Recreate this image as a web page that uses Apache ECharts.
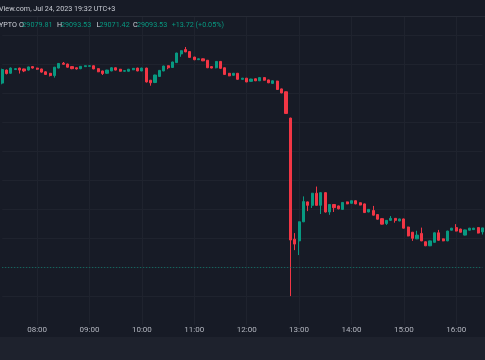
<!DOCTYPE html>
<html><head><meta charset="utf-8">
<script src="https://cdn.jsdelivr.net/npm/echarts/dist/echarts.min.js"></script>
<style>html,body{margin:0;padding:0;background:#171b26;overflow:hidden}#c{width:485px;height:360px}</style>
</head><body><div id="c"></div>
<script>
const categories = [
'07:20','07:25','07:30','07:35','07:40','07:45','07:50','07:55',
'08:00','08:05','08:10','08:15','08:20','08:25','08:30','08:35','08:40','08:45','08:50','08:55',
'09:00','09:05','09:10','09:15','09:20','09:25','09:30','09:35','09:40','09:45','09:50','09:55',
'10:00','10:05','10:10','10:15','10:20','10:25','10:30','10:35','10:40','10:45','10:50','10:55',
'11:00','11:05','11:10','11:15','11:20','11:25','11:30','11:35','11:40','11:45','11:50','11:55',
'12:00','12:05','12:10','12:15','12:20','12:25','12:30','12:35','12:40','12:45','12:50','12:55',
'13:00','13:05','13:10','13:15','13:20','13:25','13:30','13:35','13:40','13:45','13:50','13:55',
'14:00','14:05','14:10','14:15','14:20','14:25','14:30','14:35','14:40','14:45','14:50','14:55',
'15:00','15:05','15:10','15:15','15:20','15:25','15:30','15:35','15:40','15:45','15:50','15:55',
'16:00','16:05','16:10','16:15','16:20','16:25','16:30'];

const opens = [29536,29581,29570,29583,29588,29585,29581,29593,29588,29585,
29575,29570,29562,29588,29605,29602,29593,29589,29586,29593,
29594,29596,29586,29578,29570,29578,29589,29584,29577,29577,
29582,29588,29578,29588,29546,29538,29559,29578,29596,29590,
29607,29637,29652,29645,29626,29617,29620,29615,29593,29589,
29611,29589,29570,29563,29570,29549,29553,29542,29551,29544,
29555,29547,29535,29543,29516,29506,29415,28996,28990,29056,
29125,29113,29155,29113,29157,29090,29116,29111,29099,29125,
29120,29129,29122,29118,29090,29095,29081,29067,29050,29061,
29068,29059,29066,29038,29020,28997,29016,28987,28973,28985,
29018,28997,28990,29027,29036,29031,29010,29027,29029,29036,
29021];

const closes = [29583,29569,29588,29586,29581,29578,29592,29588,29584,29574,
29566,29562,29591,29604,29601,29591,29586,29585,29594,29596,
29596,29585,29575,29569,29581,29589,29581,29577,29579,29584,
29587,29578,29588,29540,29537,29564,29580,29595,29589,29609,
29640,29648,29644,29625,29617,29620,29613,29589,29588,29611,
29587,29566,29561,29570,29549,29553,29540,29550,29544,29555,
29546,29537,29544,29514,29502,29431,28993,28979,29056,29126,
29113,29155,29113,29157,29090,29116,29105,29101,29123,29118,
29129,29118,29114,29088,29099,29079,29065,29048,29061,29068,
29061,29066,29034,29007,28999,29010,28990,28973,28990,29018,
28992,28990,29024,29034,29024,29020,29028,29034,29034,29017,
29035];

const lows = [29532,29566,29568,29581,29569,29574,29579,29586,29582,29572,
29564,29559,29555,29587,29600,29590,29584,29583,29584,29592,
29593,29584,29574,29564,29568,29577,29580,29576,29576,29576,
29581,29577,29577,29538,29527,29536,29558,29577,29584,29589,
29606,29627,29643,29624,29615,29616,29612,29588,29587,29587,
29586,29565,29560,29561,29548,29548,29539,29541,29543,29543,
29545,29536,29534,29513,29501,29430,28799,28958,28941,29055,
29093,29104,29112,29083,29088,29080,29090,29099,29097,29117,
29119,29117,29113,29087,29089,29078,29064,29047,29045,29059,
29053,29058,29033,29006,28990,28996,28989,28972,28972,28984,
28991,28989,28989,29026,29023,29019,29009,29026,29028,29016,
29012];

const highs = [29586,29583,29590,29588,29589,29586,29593,29595,29589,29586,
29577,29571,29592,29605,29609,29603,29594,29590,29595,29597,
29598,29597,29587,29579,29582,29591,29590,29585,29580,29585,
29588,29589,29589,29589,29547,29565,29581,29596,29597,29610,
29641,29649,29661,29646,29627,29621,29621,29616,29594,29612,
29612,29590,29571,29571,29571,29554,29554,29551,29552,29556,
29556,29548,29545,29544,29517,29507,29416,29017,29057,29144,
29126,29156,29178,29158,29158,29117,29117,29112,29124,29126,
29130,29130,29123,29119,29100,29111,29082,29068,29062,29076,
29069,29067,29067,29039,29021,29025,29036,28988,28991,29019,
29028,28998,29025,29035,29048,29032,29029,29035,29035,29037,
29035];

const refLine = 28900;
const headerText = 'View.com, Jul 24, 2023 19:32 UTC+3';
const legendParts = [
  ['YPTO', -1, '#d1d4dc'],
  ['O', 19, '#d1d4dc'], ['29079.81', 22.3, '#089981'],
  ['H', 57, '#d1d4dc'], ['29093.53', 61, '#089981'],
  ['L', 96.5, '#d1d4dc'], ['29071.42', 99.5, '#089981'],
  ['C', 133, '#d1d4dc'], ['29093.53', 137, '#089981'],
  ['+13.72 (+0.05%)', 171.7, '#089981']
];

const UP = '#089981', DOWN = '#f23645', BG = '#171b26';
const data = opens.map((o, i) => [o, closes[i], lows[i], highs[i]]);
const isHour = (i, v) => v.slice(3) === '00';

const chart = echarts.init(document.getElementById('c'), null, {renderer: 'canvas'});
const graphics = [
  {type: 'rect', z: 100, shape: {x: 0, y: 0, width: 485, height: 16}, style: {fill: BG}},
  {type: 'rect', z: 100, shape: {x: 0, y: 16, width: 485, height: 1}, style: {fill: '#262a35'}},
  {type: 'rect', z: 100, shape: {x: 0, y: 337, width: 485, height: 23}, style: {fill: '#1e222d'}},
  {type: 'text', z: 101, x: -1, y: 9, style: {text: headerText, fill: '#c8cbd3', font: '7.2px Roboto', verticalAlign: 'middle'}}
];
legendParts.forEach(p => graphics.push({type: 'text', z: 101, x: p[1], y: 25.5,
  style: {text: p[0], fill: p[2], font: '7.2px Roboto', verticalAlign: 'middle'}}));

chart.setOption({
  backgroundColor: BG,
  animation: false,
  grid: {left: 2.18, right: 2.56, top: 6.8, bottom: 35.3, outerBoundsMode: 'none', containLabel: false},
  xAxis: {
    type: 'category', data: categories, boundaryGap: false,
    axisLine: {show: false}, axisTick: {show: false},
    axisLabel: {interval: isHour, color: '#b2b5be', fontSize: 8, fontFamily: 'Roboto', margin: 1.5},
    splitLine: {show: true, interval: isHour, lineStyle: {color: '#1f232e', width: 1}}
  },
  yAxis: {
    type: 'value', min: 28700, max: 29800, interval: 100,
    axisLine: {show: false}, axisTick: {show: false}, axisLabel: {show: false},
    splitLine: {show: true, showMinLine: false, showMaxLine: false, lineStyle: {color: '#1f232e', width: 1}}
  },
  series: [{
    type: 'candlestick', data: data, barWidth: 2.6, clip: false,
    itemStyle: {color: UP, color0: DOWN, borderColor: UP, borderColor0: DOWN, borderWidth: 1},
    markLine: {
      silent: true, symbol: ['none', 'none'], label: {show: false},
      lineStyle: {type: [1, 2], color: UP, opacity: 0.7, width: 1},
      data: [{yAxis: refLine}]
    }
  }],
  graphic: graphics
});
</script>
</body></html>
